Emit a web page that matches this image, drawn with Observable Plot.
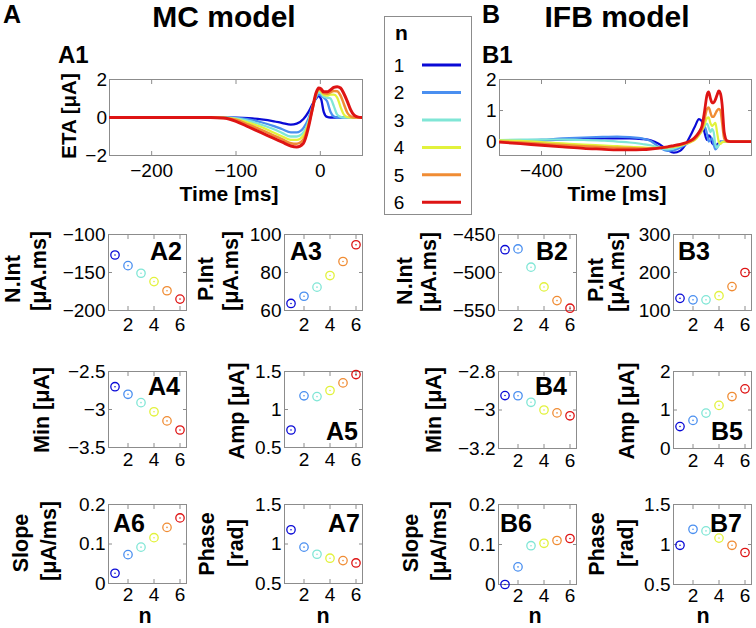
<!DOCTYPE html>
<html><head><meta charset="utf-8">
<script src="https://cdn.jsdelivr.net/npm/d3@7"></script>
<script src="https://cdn.jsdelivr.net/npm/@observablehq/plot@0.6"></script>
<style>
body{margin:0;background:#fff;}
#fig{position:relative;width:756px;height:628px;overflow:hidden;background:#fff;font-family:"Liberation Sans",Arial,Helvetica,sans-serif;}
#fig svg{position:absolute;}
</style></head><body><div id="fig"></div>
<script>
// ---------- data ----------
const nValues = [1, 2, 3, 4, 5, 6];
const nColors = ["#0a0ad6", "#4a8ff0", "#80e6d6", "#e2f23c", "#f08c34", "#de1414"];

// A1: MC model ETA (time in ms, value in µA)
const tA = [-250,-200,-130,-115,-100,-85,-70,-55,-45,-35,-28,-20,-14,-9,-5,-2,1,4,8,12,16,20,24,28,32,36,40,45,50];
const etaA_n1 = [0,0,0,0,-0.01,-0.04,-0.1,-0.2,-0.29,-0.37,-0.32,-0.08,0.3,0.72,1.0,1.12,0.95,0.3,0.03,0,0,0,0,0,0,0,0,0,0];
const etaA_n2 = [0,0,0,0,-0.02,-0.1,-0.25,-0.45,-0.62,-0.78,-0.78,-0.55,-0.05,0.65,1.05,1.22,1.15,1.05,0.85,0.3,0.05,0,0,0,0,0,0,0,0];
const etaA_n3 = [0,0,0,0,-0.05,-0.18,-0.38,-0.62,-0.82,-1.0,-1.0,-0.78,-0.2,0.6,1.15,1.35,1.25,1.1,1.05,1.0,0.6,0.15,0.03,0,0,0,0,0,0];
const etaA_n4 = [0,0,0,-0.01,-0.08,-0.28,-0.5,-0.8,-1.0,-1.18,-1.18,-0.95,-0.3,0.55,1.2,1.45,1.35,1.2,1.15,1.2,1.2,1.05,0.55,0.15,0.02,0,0,0,0];
const etaA_n5 = [0,0,0,-0.02,-0.12,-0.38,-0.65,-0.95,-1.15,-1.35,-1.38,-1.15,-0.4,0.5,1.25,1.5,1.42,1.28,1.25,1.32,1.4,1.38,1.15,0.7,0.25,0.06,0,0,0];
const etaA_n6 = [0,0,0,-0.03,-0.2,-0.5,-0.8,-1.1,-1.3,-1.5,-1.55,-1.35,-0.5,0.55,1.3,1.55,1.5,1.35,1.35,1.45,1.58,1.62,1.55,1.25,0.85,0.4,0.12,0.02,0];

// B1: IFB model ETA
const tB = [-500,-450,-400,-350,-300,-250,-220,-190,-160,-140,-120,-100,-85,-70,-55,-45,-35,-25,-18,-12,-6,-2,2,6,10,14,18,22,26,30,35,42,50,100];
const etaB_n1 = [0.02,0.03,0.04,0.06,0.08,0.1,0.1,0.1,0.08,0.04,-0.08,-0.27,-0.36,-0.3,-0.05,0.2,0.48,0.72,0.65,0.3,0.05,0.2,0.15,-0.05,-0.1,-0.1,-0.1,-0.05,0,0,0,0,0,0];
const etaB_n2 = [0.03,0.04,0.06,0.1,0.13,0.15,0.16,0.14,0.1,0.02,-0.18,-0.3,-0.28,-0.2,-0.08,0.0,0.12,0.3,0.45,0.5,0.25,0.0,0.05,0.1,-0.1,-0.25,-0.2,-0.1,-0.05,0,0,0,0,0];
const etaB_n3 = [0.05,0.06,0.06,0.06,0.05,0.03,0.0,-0.03,-0.08,-0.12,-0.2,-0.25,-0.22,-0.15,-0.05,0.02,0.1,0.22,0.35,0.5,0.58,0.45,0.3,0.4,0.3,-0.1,-0.2,-0.12,-0.05,0,0,0,0,0];
const etaB_n4 = [0.04,0.02,-0.02,-0.06,-0.1,-0.13,-0.15,-0.17,-0.19,-0.2,-0.2,-0.19,-0.17,-0.13,-0.07,-0.02,0.05,0.2,0.35,0.55,0.75,0.78,0.6,0.5,0.55,0.6,0.3,0.0,-0.08,-0.03,0,0,0,0];
const etaB_n5 = [0.0,-0.03,-0.07,-0.11,-0.15,-0.18,-0.2,-0.21,-0.22,-0.22,-0.21,-0.18,-0.15,-0.11,-0.05,0.0,0.08,0.25,0.4,0.7,1.05,1.1,0.95,0.8,0.8,0.9,1.0,1.05,1.0,0.6,0.1,0,0,0];
const etaB_n6 = [-0.02,-0.07,-0.12,-0.17,-0.22,-0.25,-0.27,-0.27,-0.26,-0.24,-0.21,-0.17,-0.13,-0.09,-0.03,0.03,0.13,0.3,0.5,0.95,1.5,1.6,1.4,1.25,1.25,1.35,1.5,1.63,1.55,1.2,0.3,0.02,0,0];

// summary measures vs n
const A2_nInt  = [-127,-141,-151,-162,-174,-185];
const A3_pInt  = [63.7,67.5,72.3,78.4,85.8,94.6];
const B2_nInt  = [-470,-469,-493,-519,-537,-547];
const B3_pInt  = [132,128,128,139,163,200];
const A4_min   = [-2.70,-2.80,-2.91,-3.03,-3.15,-3.27];
const A5_amp   = [0.73,1.18,1.17,1.25,1.35,1.46];
const B4_min   = [-2.925,-2.926,-2.96,-3.0,-3.015,-3.03];
const B5_amp   = [0.57,0.73,0.92,1.12,1.35,1.55];
const A6_slope = [0.026,0.073,0.092,0.116,0.142,0.166];
const A7_phase = [1.18,0.96,0.87,0.82,0.79,0.76];
const B6_slope = [0.0,0.044,0.097,0.103,0.11,0.115];
const B7_phase = [0.99,1.19,1.17,1.08,0.99,0.9];

// tick labels
const ticksA1x = [-200,-100,0], ticksA1y = [-2,0,2];
const ticksB1x = [-400,-200,0], ticksB1y = [0,1,2];
const ticksN = [2,4,6];

// ---------- helpers ----------
const fig = document.getElementById("fig");
const FONT = "Liberation Sans, Arial, Helvetica, sans-serif";
const GREY = "#8c8c8c";
const fmt = d => (d < 0 ? "\u2212" : "") + Math.abs(d);
const colorScale = {type: "ordinal", domain: nValues, range: nColors};

function panel({x0, y0, w, h, xDomain, yDomain, xTicks, yTicks, xPad, yPad = 3, marks}) {
  const ml = 70, mr = 8, mt = 8, mb = 34;
  const chart = Plot.plot({
    width: w + ml + mr, height: h + mt + mb,
    marginLeft: ml, marginRight: mr, marginTop: mt, marginBottom: mb,
    style: {fontFamily: FONT, fontSize: "19px", color: "#000", background: "transparent", overflow: "visible"},
    x: {domain: xDomain, label: null},
    y: {domain: yDomain, label: null},
    color: colorScale,
    marks: [
      Plot.frame({stroke: GREY, strokeWidth: 1}),
      Plot.axisX(xTicks, {anchor: "bottom", tickSize: -4, stroke: GREY, tickFormat: () => "", label: null}),
      Plot.axisX(xTicks, {anchor: "top", tickSize: -4, stroke: GREY, tickFormat: () => "", label: null}),
      Plot.axisY(yTicks, {anchor: "left", tickSize: -4, stroke: GREY, tickFormat: () => "", label: null}),
      Plot.axisY(yTicks, {anchor: "right", tickSize: -4, stroke: GREY, tickFormat: () => "", label: null}),
      Plot.axisX(xTicks, {anchor: "bottom", tickSize: 0, tickPadding: xPad, tickFormat: fmt, label: null, fontSize: 19}),
      Plot.axisY(yTicks, {anchor: "left", tickSize: 0, tickPadding: yPad, tickFormat: fmt, label: null, fontSize: 19}),
      ...marks
    ]
  });
  chart.style.left = (x0 - ml) + "px";
  chart.style.top = (y0 - mt) + "px";
  fig.append(chart);
}

function etaMarks(t, series, widths) {
  return series.map((vals, i) => Plot.line(t.map((tt, j) => ({t: tt, v: vals[j], n: nValues[i]})), {
    x: "t", y: "v", stroke: "n", strokeWidth: widths[i], curve: "monotone-x", clip: true
  }));
}

function dotMarks(vals) {
  const rows = nValues.map((n, i) => ({n, v: vals[i]}));
  return [
    Plot.dot(rows, {x: "n", y: "v", stroke: "n", r: 4.2, strokeWidth: 1.3, fill: "none"}),
    Plot.dot(rows, {x: "n", y: "v", fill: "n", r: 0.8})
  ];
}

// ---------- ETA panels ----------
panel({x0: 109, y0: 79, w: 253, h: 76, xDomain: [-250, 50], yDomain: [-2, 2],
  xTicks: ticksA1x, yTicks: ticksA1y, xPad: 8, yPad: 2.5,
  marks: etaMarks(tA, [etaA_n1, etaA_n2, etaA_n3, etaA_n4, etaA_n5, etaA_n6], [2.3, 2.3, 2.3, 2.3, 2.5, 3])});
panel({x0: 499, y0: 79, w: 252, h: 76, xDomain: [-500, 100], yDomain: [-0.45, 2],
  xTicks: ticksB1x, yTicks: ticksB1y, xPad: 8, yPad: 3,
  marks: etaMarks(tB, [etaB_n1, etaB_n2, etaB_n3, etaB_n4, etaB_n5, etaB_n6], [2.2, 2.2, 2.2, 2.2, 2.4, 2.8])});

// ---------- summary panels ----------
const sp = [
  {x0: 108, y0: 234, h: 76, yDomain: [-200, -100], yTicks: [-200, -150, -100], vals: A2_nInt, xPad: 6.5},
  {x0: 284, y0: 234, h: 76, yDomain: [60, 100], yTicks: [60, 80, 100], vals: A3_pInt, xPad: 6.5},
  {x0: 498, y0: 234, h: 76, yDomain: [-550, -450], yTicks: [-550, -500, -450], vals: B2_nInt, xPad: 6.5},
  {x0: 673, y0: 234, h: 76, yDomain: [100, 300], yTicks: [100, 200, 300], vals: B3_pInt, xPad: 6.5},
  {x0: 108, y0: 371, h: 76, yDomain: [-3.5, -2.5], yTicks: [-3.5, -3, -2.5], vals: A4_min, xPad: 5},
  {x0: 284, y0: 371, h: 76, yDomain: [0.5, 1.5], yTicks: [0.5, 1, 1.5], vals: A5_amp, xPad: 5},
  {x0: 498, y0: 371, h: 77, yDomain: [-3.2, -2.8], yTicks: [-3.2, -3, -2.8], vals: B4_min, xPad: 5},
  {x0: 673, y0: 371, h: 77, yDomain: [0, 2], yTicks: [0, 1, 2], vals: B5_amp, xPad: 5},
  {x0: 108, y0: 504, h: 79, yDomain: [0, 0.2], yTicks: [0, 0.1, 0.2], vals: A6_slope, xPad: 4},
  {x0: 284, y0: 504, h: 79, yDomain: [0.5, 1.5], yTicks: [0.5, 1, 1.5], vals: A7_phase, xPad: 4},
  {x0: 498, y0: 504, h: 80, yDomain: [0, 0.2], yTicks: [0, 0.1, 0.2], vals: B6_slope, xPad: 4},
  {x0: 673, y0: 504, h: 80, yDomain: [0.5, 1.5], yTicks: [0.5, 1, 1.5], vals: B7_phase, xPad: 4}
];
sp.forEach(p => panel({x0: p.x0, y0: p.y0, w: 78, h: p.h, xDomain: [0.5, 6.5], yDomain: p.yDomain,
  xTicks: ticksN, yTicks: p.yTicks, xPad: p.xPad, yPad: 3, marks: dotMarks(p.vals)}));

// ---------- text overlay & legend ----------
const svg = d3.select(fig).append("svg").attr("width", 756).attr("height", 628)
  .style("left", "0px").style("top", "0px").style("pointer-events", "none")
  .attr("font-family", FONT);

function txt(x, y, s, {size = 21, weight = "bold", anchor = "start", rot = false} = {}) {
  const t = svg.append("text").text(s).attr("font-size", size).attr("font-weight", weight)
    .attr("text-anchor", anchor).attr("fill", "#000");
  if (rot) t.attr("transform", `translate(${x},${y}) rotate(-90)`);
  else t.attr("x", x).attr("y", y);
  return t;
}

// titles
txt(3, 23, "A", {size: 25});
txt(224, 27, "MC model", {size: 30, anchor: "middle"});
txt(482, 23, "B", {size: 25});
txt(617, 27, "IFB model", {size: 30, anchor: "middle"});
txt(58, 63, "A1", {size: 24});
txt(482, 63, "B1", {size: 24});

// ETA axis labels
txt(76, 116, "ETA [\u03BCA]", {size: 20.5, anchor: "middle", rot: true});
txt(229, 200.5, "Time [ms]", {size: 21, anchor: "middle"});
txt(617, 200.5, "Time [ms]", {size: 21, anchor: "middle"});

// summary y labels
const ylab = [
  [20, 279, "N.Int"], [46, 271, "[\u03BCA.ms]"], [213, 279, "P.Int"], [237.5, 271, "[\u03BCA.ms]"],
  [411.5, 281, "N.Int"], [435.5, 272, "[\u03BCA.ms]"], [603, 280, "P.Int"], [623.5, 272, "[\u03BCA.ms]"],
  [48.5, 410, "Min [\u03BCA]"], [244, 411, "Amp [\u03BCA]"], [440.5, 410, "Min [\u03BCA]"], [633.5, 411, "Amp [\u03BCA]"],
  [28, 543, "Slope"], [55.5, 541, "[\u03BCA/ms]"], [214, 544, "Phase"], [242.5, 543, "[rad]"],
  [418, 543, "Slope"], [445.5, 541, "[\u03BCA/ms]"], [604, 544, "Phase"], [632.5, 543, "[rad]"]
];
ylab.forEach(([x, y, s]) => txt(x, y, s, {size: 21.5, anchor: "middle", rot: true}));

// n labels
[[145, 623], [323, 623], [535, 623], [703, 623]].forEach(([x, y]) => txt(x, y, "n", {size: 21.5, anchor: "middle"}));

// panel tags
const tags = [
  [182, 260, "A2", "end"], [290, 260, "A3", "start"], [568, 260, "B2", "end"], [678, 260, "B3", "start"],
  [180, 395, "A4", "end"], [358, 440, "A5", "end"], [567, 395, "B4", "end"], [743, 440, "B5", "end"],
  [113, 531.5, "A6", "start"], [360, 531.5, "A7", "end"], [500, 531.5, "B6", "start"], [742, 531.5, "B7", "end"]
];
tags.forEach(([x, y, s, a]) => txt(x, y, s, {size: 25, anchor: a}));

// legend
svg.append("rect").attr("x", 384.5).attr("y", 16.5).attr("width", 87).attr("height", 198)
  .attr("fill", "#fff").attr("stroke", GREY).attr("stroke-width", 1);
txt(395, 40, "n", {size: 21});
const ly = d3.scalePoint().domain(nValues).range([65, 202.3]);
nValues.forEach((n, i) => {
  txt(399, ly(n) + 6.8, String(n), {size: 19, weight: "normal", anchor: "middle"});
  svg.append("line").attr("x1", 422).attr("x2", 461).attr("y1", ly(n)).attr("y2", ly(n))
    .attr("stroke", nColors[i]).attr("stroke-width", 3);
});
</script></body></html>
